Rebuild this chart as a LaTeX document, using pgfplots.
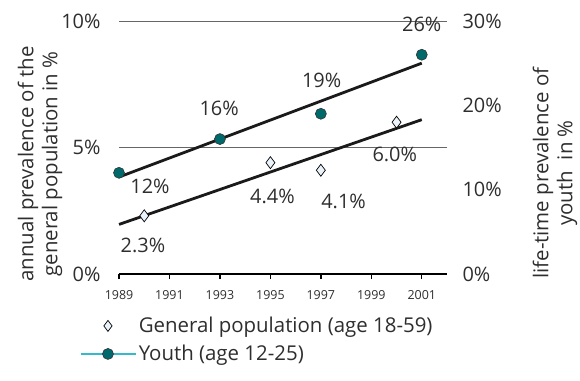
\documentclass[border=0pt]{standalone}
\usepackage{pgfplots}
\pgfplotsset{compat=1.18}
\usepackage{fontspec}
\setmainfont{Open Sans}
\definecolor{txt}{HTML}{2E2E2E}
\definecolor{tealdot}{HTML}{00696C}
\definecolor{diafill}{HTML}{EAF2FA}
\definecolor{legline}{HTML}{33BBCC}
\definecolor{trend}{HTML}{1A1A1A}

\pgfplotstableread{
year val
1990 2.3
1995 4.4
1997 4.1
2000 6.0
}\generaltab
\pgfplotstableread{
year val
1989 12
1993 16
1997 19
2001 26
}\youthtab

\begin{document}
\begin{tikzpicture}[x=1bp,y=1bp]
\useasboundingbox (0,0) rectangle (580,380);
\pgfplotsset{
  common/.style={
    at={(119bp,106bp)}, anchor=south west, scale only axis,
    width=328bp, height=253bp,
    xmin=1989, xmax=2002, ymin=0,
    clip=false,
    tick label style={text=txt},
    label style={text=txt},
  },
  legimg/.style={legend image code/.code={\draw[mark repeat=2,mark phase=2,##1] plot coordinates {(0bp,0bp) (27bp,0bp) (55bp,0bp)};}},
}
\begin{axis}[common,
  ymax=10,
  axis x line*=bottom, axis y line*=left,
  y axis line style={draw=none},
  x axis line style={draw=black, line width=1.3bp},
  xtick={1989,1991,...,2001},
  xticklabel style={font=\fontsize{12.5}{14}\selectfont, /pgf/number format/set thousands separator={}, yshift=-8bp},
  /pgf/number format/assume math mode=true,
  x tick style={draw=black, line width=1.3bp},
  tick align=outside, major tick length=5bp,
  ytick={0,5,10}, yticklabels={0\%,5\%,10\%},
  y tick style={draw=none},
  yticklabel style={font=\fontsize{20}{24}\selectfont, xshift=-10bp},
  ymajorgrids, grid style={draw=gray!80!black, line width=0.7bp},
  legend style={at={(-0.119,-0.163)}, anchor=north west, draw=none, fill=none,
    inner sep=0pt, row sep=7bp, font=\fontsize{20.5}{24}\selectfont, text=txt,
    cells={anchor=west}},
  legend cell align=left,
]
\addlegendimage{legimg, only marks, mark=diamond*, mark size=5.5bp, mark options={fill=diafill, draw=black, line width=0.7bp}}
\addlegendentry{General population (age 18-59)}
\addlegendimage{legimg, draw=legline, line width=1.6bp, mark=*, mark size=5.5bp, mark options={fill=tealdot, draw=black!80, line width=0.6bp}}
\addlegendentry{Youth (age 12-25)}

\addplot[trend, line width=2.8bp, forget plot] coordinates {(1989,1.96) (2001,6.10)};
\addplot[only marks, mark=diamond*, mark size=6bp, mark options={fill=diafill, draw=black, line width=0.7bp}, forget plot] table[x=year, y=val] {\generaltab};

\begin{scope}[font=\fontsize{20}{24}\selectfont, text=txt]
\node at (axis cs:1990.23,3.48) {12\%};
\node at (axis cs:1992.97,6.56) {16\%};
\node at (axis cs:1997.03,7.67) {19\%};
\node at (axis cs:2001,9.85) {26\%};
\node at (axis cs:1989.95,1.11) {2.3\%};
\node at (axis cs:1995.08,3.08) {4.4\%};
\node at (axis cs:1997.9,2.85) {4.1\%};
\node at (axis cs:1999.93,4.74) {6.0\%};
\end{scope}
\end{axis}

\begin{axis}[common,
  ymax=30,
  axis x line=none, axis y line*=right,
  y axis line style={draw=none},
  ytick={0,10,20,30}, yticklabels={0\%,10\%,20\%,30\%},
  y tick style={draw=none}, major tick length=0bp,
  yticklabel style={font=\fontsize{20}{24}\selectfont, xshift=12bp},
]
\addplot[trend, line width=2.8bp] coordinates {(1989,11.5) (2001,25.0)};
\addplot[only marks, mark=*, mark size=5.5bp, mark options={fill=tealdot, draw=black!80, line width=0.6bp}] table[x=year, y=val] {\youthtab};
\end{axis}

\node[rotate=90, align=center, text=txt, font=\fontsize{20.5}{24}\selectfont] at (40,216) {annual prevalence of the\\general population in \%};
\node[rotate=90, align=center, text=txt, font=\fontsize{20.5}{24}\selectfont] at (555,207) {life-time prevalence of\\youth\ \ in \%};
\end{tikzpicture}
\end{document}
